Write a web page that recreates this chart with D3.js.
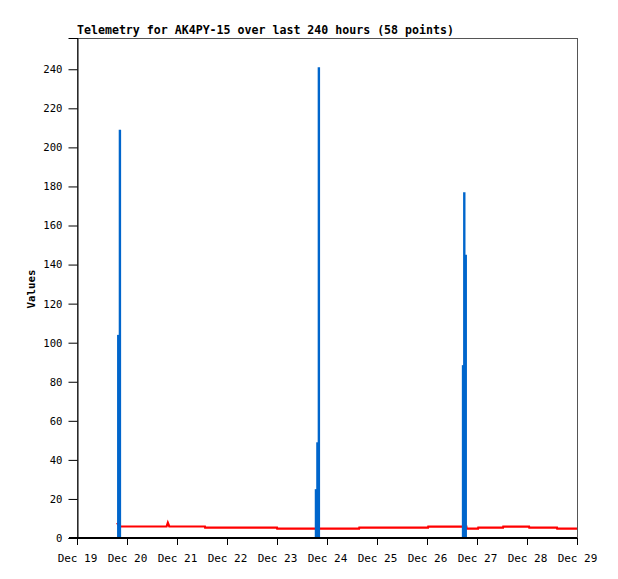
<!DOCTYPE html>
<html><head><meta charset="utf-8">
<script src="https://cdn.jsdelivr.net/npm/d3@7"></script>
<style>body{margin:0;background:#fff}svg{display:block}</style>
</head><body>
<script>
// hours since Dec 19 00:00
const title = "Telemetry for AK4PY-15 over last 240 hours (58 points)";
const xTickLabels = ["Dec 19","Dec 20","Dec 21","Dec 22","Dec 23","Dec 24","Dec 25","Dec 26","Dec 27","Dec 28","Dec 29"];
const yTicks = [0,20,40,60,80,100,120,140,160,180,200,220,240];
const blueHours  = [19.8, 20.6, 114.7, 115.4, 116.1, 185.3, 185.9, 186.6];
const blueValues = [104, 209, 25, 49, 241, 88.5, 177, 145];
const redHours  = [19.2, 20.4, 43.0, 43.6, 44.3, 61.4, 61.5, 96.0, 96.1, 135.4, 135.5, 168.5, 168.6, 186.9, 187.0, 192.5, 192.6, 204.5, 204.6, 217.0, 217.1, 230.4, 230.5, 240];
const redValues = [7.8, 5.9, 5.9, 7.8, 5.9, 5.9, 5.3, 5.3, 4.8, 4.8, 5.3, 5.3, 5.8, 5.8, 4.8, 4.8, 5.3, 5.3, 5.8, 5.8, 5.3, 5.3, 4.8, 4.8];

const W = 618, H = 579;
const L = 77, R = 577, T = 38, B = 538;
const svg = d3.select("body").append("svg").attr("width", W).attr("height", H);
const x = d3.scaleLinear().domain([0, 240]).range([L, R]);
const y = d3.scaleLinear().domain([0, 256]).range([B, T]);
const mono = "'DejaVu Sans Mono', monospace";

// frame
svg.append("rect").attr("x", L+0.5).attr("y", T+0.5).attr("width", R-L).attr("height", B-T)
  .attr("fill", "none").attr("stroke", "#555").attr("stroke-width", 1);

// red line
const red = redHours.map((h,i)=>({h, v: redValues[i]}));
svg.append("path").datum(red)
  .attr("d", d3.line().x(d=>x(d.h)).y(d=>y(d.v)))
  .attr("fill","none").attr("stroke","#ff0000").attr("stroke-width",2.2);

// blue impulses
svg.selectAll("line.b").data(blueHours.map((h,i)=>({h, v: blueValues[i]}))).join("line")
  .attr("x1", d=>x(d.h)).attr("x2", d=>x(d.h))
  .attr("y1", y(0)).attr("y2", d=>y(d.v))
  .attr("stroke", "#0066cc").attr("stroke-width", 2.4);

// y axis
const yAxis = d3.axisLeft(y).tickValues(yTicks).tickSize(9).tickPadding(6);
const gy = svg.append("g").attr("transform", `translate(${L+0.5},0)`).call(yAxis);
gy.select(".domain").attr("stroke","#000");
gy.selectAll("text").attr("font-family", mono).attr("font-size", "10.6px").attr("fill","#000");

// x axis
const xAxis = d3.axisBottom(x).tickValues(d3.range(0, 241, 24))
  .tickFormat((d,i)=>xTickLabels[i]).tickSize(7).tickPadding(9).tickSizeOuter(0);
const gx = svg.append("g").attr("transform", `translate(0,${B})`).call(xAxis);
gx.select(".domain").remove();
gx.selectAll("text").attr("font-family", mono).attr("font-size", "11px").attr("fill","#000");
svg.append("line").attr("x1", L-8).attr("x2", R).attr("y1", B).attr("y2", B)
  .attr("stroke","#000").attr("stroke-width",2);

// title
svg.append("text").attr("x", L).attr("y", 34).text(title)
  .attr("font-family", mono).attr("font-weight","bold").attr("font-size","11.6px");

// y label
svg.append("text").attr("transform", "translate(35,289) rotate(-90)").attr("text-anchor","middle")
  .text("Values").attr("font-family", mono).attr("font-weight","bold").attr("font-size","10.8px");
</script>
</body></html>
